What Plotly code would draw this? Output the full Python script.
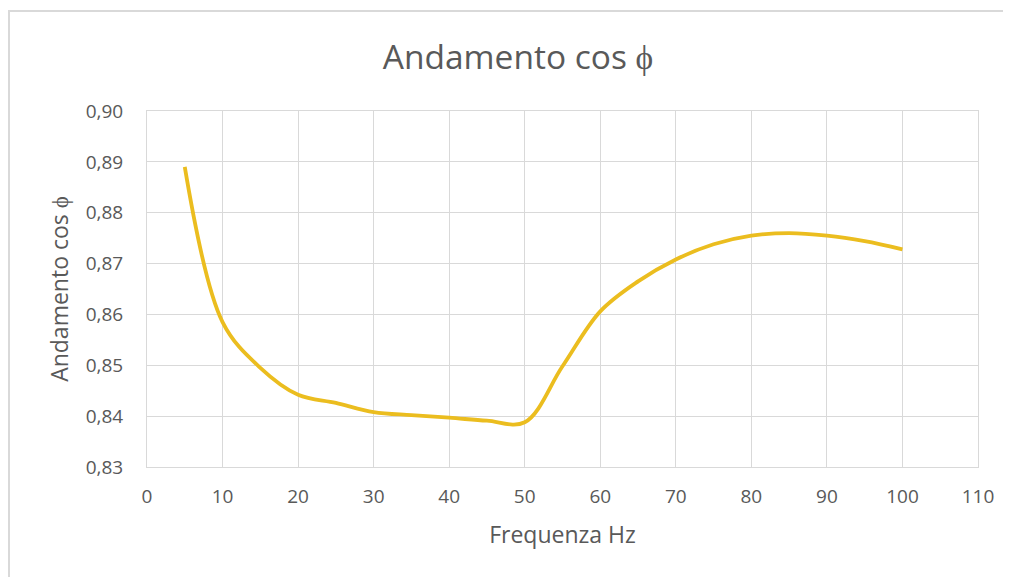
import plotly.graph_objects as go

# frequency (Hz) and power factor
freq_hz = [5, 10, 15, 20, 25, 30, 35, 40, 45, 50, 55, 60, 65, 70, 75, 80, 85, 90, 95, 100]
cos_phi = [0.8890, 0.8585, 0.8495, 0.8442, 0.8426, 0.8408, 0.8402, 0.8397, 0.8391, 0.8388,
           0.8498, 0.8606, 0.8665, 0.8708, 0.8738, 0.8755, 0.8760, 0.8755, 0.8744, 0.8728]

x_ticks = list(range(0, 111, 10))
y_ticks = [0.83, 0.84, 0.85, 0.86, 0.87, 0.88, 0.89, 0.90]

GREY = "#595959"
GRID = "#d9d9d9"
FONT = "Open Sans"

# page body has an 8px margin, so the figure is 8px smaller than the window
W, H = 1003, 569

fig = go.Figure()
fig.add_trace(go.Scatter(
    x=freq_hz, y=cos_phi, mode="lines",
    line=dict(color="#EBBD1F", width=3.8, shape="spline", smoothing=1.0),
    hoverinfo="x+y", showlegend=False,
))

fig.update_layout(
    width=W, height=H,
    margin=dict(l=139, r=33, t=103, b=110),
    paper_bgcolor="white", plot_bgcolor="white",
    separators=",.",
    font=dict(family=FONT, color=GREY, size=20),
    title=dict(text="Andamento cos ϕ", x=510 / W, xanchor="center",
               y=1 - 49 / H, yanchor="middle",
               font=dict(family=FONT, size=33.5, color=GREY)),
    xaxis=dict(
        range=[0, 110], tickvals=x_ticks, showgrid=True, gridcolor=GRID, gridwidth=1,
        showline=True, linecolor=GRID, mirror=True, zeroline=False, ticks="",
        tickfont=dict(size=19, color=GREY), ticklabelstandoff=12,
        title=dict(text="Frequenza Hz", font=dict(size=23, color=GREY), standoff=19),
    ),
    yaxis=dict(
        range=[0.83, 0.90], tickvals=y_ticks, tickformat=".2f", showgrid=True,
        gridcolor=GRID, gridwidth=1, showline=True, linecolor=GRID, mirror=True,
        zeroline=False, ticks="", tickfont=dict(size=19, color=GREY), ticklabelstandoff=19,
        title=dict(text="Andamento cos ϕ", font=dict(size=23, color=GREY), standoff=10),
    ),
)

# chart frame (cropped at the right and bottom in the reference)
fig.add_shape(type="rect", xref="paper", yref="paper",
              x0=(1 - 139) / 831, x1=1.1, y0=-0.4, y1=(467 - 11) / 356,
              line=dict(color="#d9d9d9", width=2), layer="below")

fig.write_html("out.html")
